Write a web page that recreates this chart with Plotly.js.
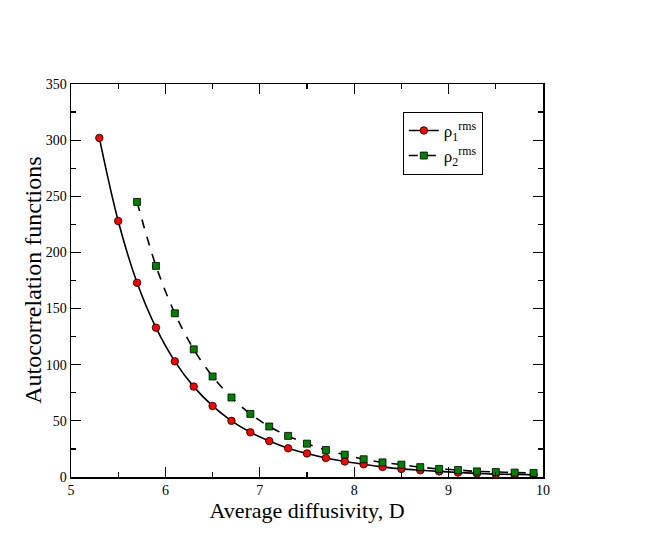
<!DOCTYPE html>
<html>
<head>
<meta charset="utf-8">
<script src="https://cdn.plot.ly/plotly-3.0.1.min.js"></script>
<style>
  body { margin: 0; background: #fff; }
  #chart { width: 654px; height: 545px; }
</style>
</head>
<body>
<div id="chart"></div>
<script>
var d1 = [5.3, 5.5, 5.7, 5.9, 6.1, 6.3, 6.5, 6.7, 6.9, 7.1, 7.3, 7.5, 7.7, 7.9, 8.1, 8.3, 8.5, 8.7, 8.9, 9.1, 9.3, 9.5, 9.7, 9.9];
var rho1 = [302, 228, 173, 133, 103, 80.5, 63.3, 50, 39.8, 32, 25.6, 21, 17, 13.8, 11.3, 9, 7.2, 6, 5, 4, 3.2, 2.6, 2.3, 2];

var d2 = [5.7, 5.9, 6.1, 6.3, 6.5, 6.7, 6.9, 7.1, 7.3, 7.5, 7.7, 7.9, 8.1, 8.3, 8.5, 8.7, 8.9, 9.1, 9.3, 9.5, 9.7, 9.9];
var rho2 = [245, 188, 145.8, 113.7, 89.5, 70.8, 56.2, 45, 36.6, 29.7, 24, 19.9, 15.8, 13, 11, 8.8, 7.2, 6.2, 5, 4.5, 3.9, 3.6];

var serif = 'Liberation Serif';

var data = [
	{
		type: 'scatter',
		mode: 'lines+markers',
		name: 'ρ<sub>1</sub><sup>rms</sup>',
		x: d1,
		y: rho1,
		line: {color: 'black', width: 1.6, shape: 'spline'},
		marker: {symbol: 'circle', size: 7.5, color: '#ff0000', line: {color: 'black', width: 0.8}}
	},
	{
		type: 'scatter',
		mode: 'lines+markers',
		name: 'ρ<sub>2</sub><sup>rms</sup>',
		x: d2,
		y: rho2,
		line: {color: 'black', width: 1.6, dash: 'dash', shape: 'spline'},
		marker: {symbol: 'square', size: 7, color: '#008000', line: {color: 'black', width: 0.8}}
	}
];

function makeAxis(extra) {
	var ax = {
		showline: true,
		linecolor: 'black',
		linewidth: 1.5,
		mirror: 'allticks',
		ticks: 'inside',
		ticklen: 10,
		tickwidth: 1.2,
		tickcolor: 'black',
		showgrid: false,
		zeroline: false,
		ticklabelstandoff: 0,
		tickfont: {family: serif, size: 14, color: 'black'}
	};
	return Object.assign(ax, extra);
}

var layout = {
	width: 654,
	height: 545,
	font: {family: serif, color: 'black'},
	paper_bgcolor: 'white',
	plot_bgcolor: 'white',
	margin: {l: 71, r: 111, t: 84, b: 68},
	showlegend: true,
	legend: {
		x: 0.703,
		y: 0.929,
		xanchor: 'left',
		yanchor: 'top',
		bordercolor: 'black',
		borderwidth: 1,
		bgcolor: 'white',
		tracegroupgap: 4,
		font: {family: serif, size: 17, color: 'black'}
	},
	xaxis: makeAxis({
		range: [5, 10],
		dtick: 1,
		minor: {dtick: 0.5, ticks: 'inside', ticklen: 5, tickcolor: 'black', tickwidth: 1.2},
		title: {text: 'Average diffusivity, D', font: {family: serif, size: 22, color: 'black'}, standoff: 2}
	}),
	yaxis: makeAxis({
		range: [0, 350],
		dtick: 50,
		minor: {dtick: 25, ticks: 'inside', ticklen: 5, tickcolor: 'black', tickwidth: 1.2}
	}),
	annotations: [
		{
			text: 'Autocorrelation functions',
			xref: 'paper',
			yref: 'paper',
			x: -0.082,
			y: 0.5,
			xanchor: 'center',
			yanchor: 'middle',
			textangle: -90,
			showarrow: false,
			font: {family: serif, size: 24, color: 'black'}
		}
	]
};

Plotly.newPlot('chart', data, layout, {displayModeBar: false, staticPlot: true});
</script>
</body>
</html>
